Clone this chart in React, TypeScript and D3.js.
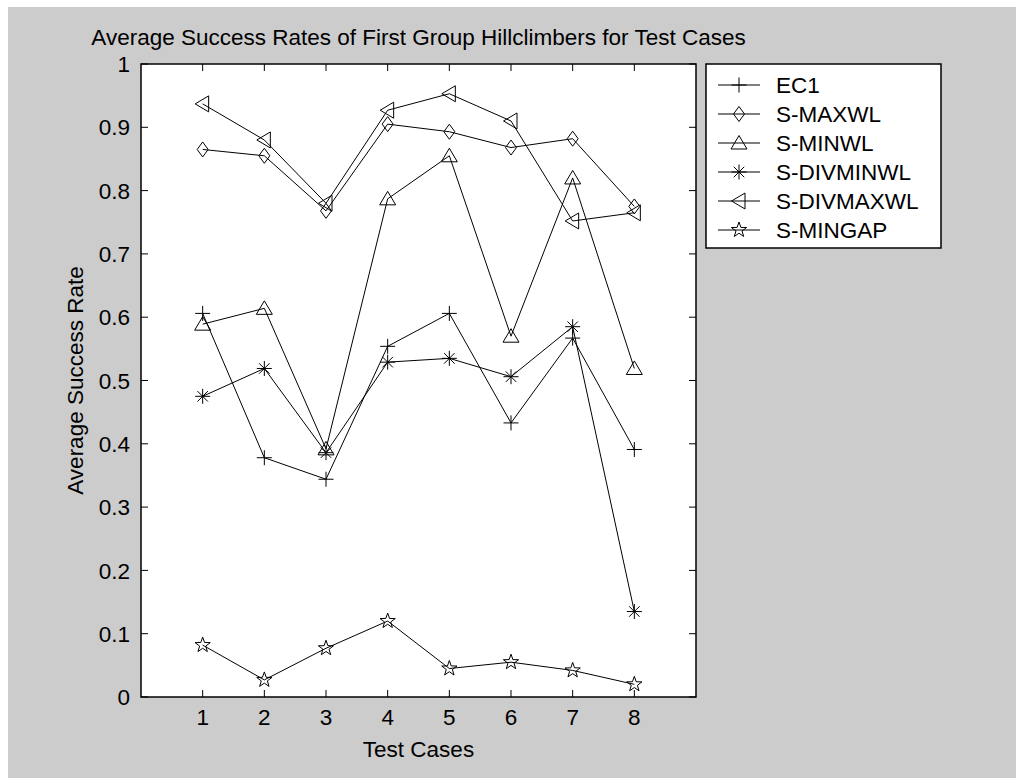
import React from "react";
import * as d3 from "d3";

// Test case indices along the x axis
const testCases = [1, 2, 3, 4, 5, 6, 7, 8];

// Average success rate per hillclimber, one value per test case
const ec1 = [0.606, 0.378, 0.344, 0.554, 0.606, 0.433, 0.567, 0.391];
const sMaxwl = [0.865, 0.855, 0.768, 0.905, 0.893, 0.868, 0.882, 0.775];
const sMinwl = [0.589, 0.614, 0.392, 0.787, 0.855, 0.57, 0.82, 0.519];
const sDivminwl = [0.475, 0.519, 0.386, 0.529, 0.535, 0.506, 0.585, 0.135];
const sDivmaxwl = [0.937, 0.88, 0.78, 0.927, 0.953, 0.91, 0.752, 0.765];
const sMingap = [0.082, 0.027, 0.077, 0.12, 0.045, 0.055, 0.042, 0.02];

const seriesNames = ["EC1", "S-MAXWL", "S-MINWL", "S-DIVMINWL", "S-DIVMAXWL", "S-MINGAP"];
const seriesMarkers = ["plus", "diamond", "triangleUp", "asterisk", "triangleLeft", "pentagram"];
const seriesValues = [ec1, sMaxwl, sMinwl, sDivminwl, sDivmaxwl, sMingap];

const yTicks = [0, 0.1, 0.2, 0.3, 0.4, 0.5, 0.6, 0.7, 0.8, 0.9, 1];
const yTickLabels = ["0", "0.1", "0.2", "0.3", "0.4", "0.5", "0.6", "0.7", "0.8", "0.9", "1"];
const xTickLabels = ["1", "2", "3", "4", "5", "6", "7", "8"];

const titleText = "Average Success Rates of First Group Hillclimbers for Test Cases";
const xLabelText = "Test Cases";
const yLabelText = "Average Success Rate";

const W = 1016;
const H = 778;
const FONT = "'Liberation Sans', Arial, Helvetica, sans-serif";
const FS = 22.5;
const FIGURE_GRAY = "#cccccc";

// Layout in page pixels (the svg covers the whole window)
const plot = { left: 141, right: 696, top: 64, bottom: 697 };
const legendBox = { x: 706, y: 64, w: 235, h: 184 };

function markerPath(kind: string, cx: number, cy: number): string {
  const p = d3.path();
  const r = 7.5;
  switch (kind) {
    case "plus":
      p.moveTo(cx - r, cy); p.lineTo(cx + r, cy);
      p.moveTo(cx, cy - r); p.lineTo(cx, cy + r);
      break;
    case "asterisk": {
      p.moveTo(cx - r, cy); p.lineTo(cx + r, cy);
      p.moveTo(cx, cy - r); p.lineTo(cx, cy + r);
      const d = r * 0.7;
      p.moveTo(cx - d, cy - d); p.lineTo(cx + d, cy + d);
      p.moveTo(cx - d, cy + d); p.lineTo(cx + d, cy - d);
      break;
    }
    case "diamond":
      p.moveTo(cx, cy - r); p.lineTo(cx + 5.5, cy); p.lineTo(cx, cy + r); p.lineTo(cx - 5.5, cy); p.closePath();
      break;
    case "triangleUp":
      p.moveTo(cx, cy - r); p.lineTo(cx + 8, cy + 6); p.lineTo(cx - 8, cy + 6); p.closePath();
      break;
    case "triangleLeft":
      p.moveTo(cx - r, cy); p.lineTo(cx + 6, cy - 8); p.lineTo(cx + 6, cy + 8); p.closePath();
      break;
    case "pentagram": {
      const R = 8;
      const ri = R * 0.4;
      for (let i = 0; i < 10; i++) {
        const ang = -Math.PI / 2 + (i * Math.PI) / 5;
        const rad = i % 2 === 0 ? R : ri;
        const px = cx + rad * Math.cos(ang);
        const py = cy + rad * Math.sin(ang);
        if (i === 0) p.moveTo(px, py); else p.lineTo(px, py);
      }
      p.closePath();
      break;
    }
  }
  return p.toString();
}

export default function App() {
  const x = d3.scaleLinear().domain([0, 9]).range([plot.left, plot.right]);
  const y = d3.scaleLinear().domain([0, 1]).range([plot.bottom, plot.top]);
  const line = d3
    .line<number>()
    .x((_, i) => x(testCases[i]))
    .y((v) => y(v));
  const tickLen = 7;
  const midX = (plot.left + plot.right) / 2;
  const midY = (plot.top + plot.bottom) / 2;

  return (
    <>
      <style>{`html,body{overflow:hidden;background:${FIGURE_GRAY}}`}</style>
      <svg
        width={W}
        height={H}
        style={{ display: "block", position: "absolute", left: 0, top: 0 }}
        fontFamily={FONT}
      >
        <rect x={0} y={0} width={W} height={H} fill={FIGURE_GRAY} />
        {/* thin white strips along the left and top edges */}
        <rect x={0} y={0} width={8} height={H} fill="#ffffff" />
        <rect x={0} y={0} width={W} height={7} fill="#ffffff" />
        <rect
          x={plot.left}
          y={plot.top}
          width={plot.right - plot.left}
          height={plot.bottom - plot.top}
          fill="#ffffff"
        />

        {/* title */}
        <text x={midX} y={37} dy="0.36em" fontSize={FS} textAnchor="middle" fill="#000">
          {titleText}
        </text>

        {/* y ticks (left and right, pointing inward) */}
        {yTicks.map((t, i) => (
          <g key={"y" + i}>
            <line x1={plot.left} x2={plot.left + tickLen} y1={y(t)} y2={y(t)} stroke="#000" strokeWidth={1} />
            <line x1={plot.right} x2={plot.right - tickLen} y1={y(t)} y2={y(t)} stroke="#000" strokeWidth={1} />
            <text x={plot.left - 11} y={y(t)} dy="0.36em" fontSize={FS} textAnchor="end" fill="#000">
              {yTickLabels[i]}
            </text>
          </g>
        ))}

        {/* x ticks (bottom and top, pointing inward) */}
        {testCases.map((c, i) => (
          <g key={"x" + i}>
            <line x1={x(c)} x2={x(c)} y1={plot.bottom} y2={plot.bottom - tickLen} stroke="#000" strokeWidth={1} />
            <line x1={x(c)} x2={x(c)} y1={plot.top} y2={plot.top + tickLen} stroke="#000" strokeWidth={1} />
            <text x={x(c)} y={plot.bottom + 20} dy="0.36em" fontSize={FS} textAnchor="middle" fill="#000">
              {xTickLabels[i]}
            </text>
          </g>
        ))}

        {/* axis labels */}
        <text x={midX} y={plot.bottom + 52} dy="0.36em" fontSize={FS} textAnchor="middle" fill="#000">
          {xLabelText}
        </text>
        <text
          transform={`translate(${75},${midY}) rotate(-90)`}
          fontSize={FS}
          textAnchor="middle"
          dy="0.36em"
          fill="#000"
        >
          {yLabelText}
        </text>

        {/* series */}
        {seriesValues.map((vals, si) => (
          <g key={"s" + si}>
            <path d={line(vals) || ""} fill="none" stroke="#000" strokeWidth={1} />
            {vals.map((v, i) => (
              <path
                key={i}
                d={markerPath(seriesMarkers[si], x(testCases[i]), y(v))}
                fill="none"
                stroke="#000"
                strokeWidth={1}
              />
            ))}
          </g>
        ))}

        {/* plot frame */}
        <rect
          x={plot.left}
          y={plot.top}
          width={plot.right - plot.left}
          height={plot.bottom - plot.top}
          fill="none"
          stroke="#000"
          strokeWidth={1.5}
        />

        {/* legend */}
        <rect
          x={legendBox.x}
          y={legendBox.y}
          width={legendBox.w}
          height={legendBox.h}
          fill="#ffffff"
          stroke="#000"
          strokeWidth={1.5}
        />
        {seriesNames.map((name, i) => {
          const ly = legendBox.y + 21 + i * 29;
          const lx0 = legendBox.x + 12;
          const lx1 = legendBox.x + 54;
          const lm = (lx0 + lx1) / 2;
          return (
            <g key={"l" + i}>
              <line x1={lx0} x2={lx1} y1={ly} y2={ly} stroke="#000" strokeWidth={1} />
              <path d={markerPath(seriesMarkers[i], lm, ly)} fill="none" stroke="#000" strokeWidth={1} />
              <text x={legendBox.x + 70} y={ly} dy="0.36em" fontSize={FS} fill="#000">
                {name}
              </text>
            </g>
          );
        })}
      </svg>
    </>
  );
}
